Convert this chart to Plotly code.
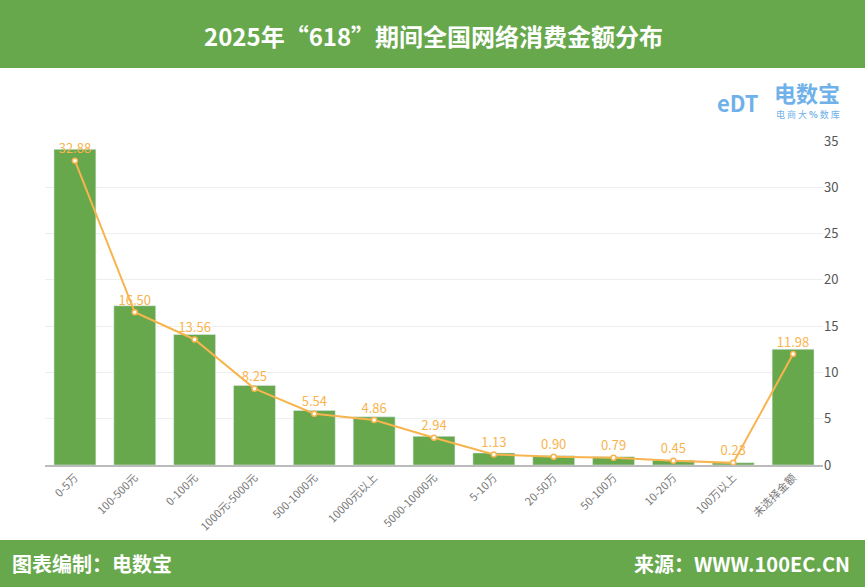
import plotly.graph_objects as go

categories = ["0-5万", "100-500元", "0-100元", "1000元-5000元", "500-1000元", "10000元以上",
              "5000-10000元", "5-10万", "20-50万", "50-100万", "10-20万", "100万以上", "未选择金额"]
bar_values = [34.1, 17.2, 14.1, 8.6, 5.9, 5.2, 3.1, 1.3, 1.0, 0.9, 0.5, 0.25, 12.5]
line_values = [32.88, 16.50, 13.56, 8.25, 5.54, 4.86, 2.94, 1.13, 0.90, 0.79, 0.45, 0.23, 11.98]
y_ticks = [0, 5, 10, 15, 20, 25, 30, 35]

GREEN = "#67a84c"
ORANGE = "#f8b44e"
FONT = "Noto Sans CJK SC"

L, R, T, B = 45, 42, 141, 122
PW, PH = 865 - L - R, 587 - T - B


def px(x):
    return (x - L) / PW


def py(y):
    return (587 - B - y) / PH


fig = go.Figure()
fig.add_trace(go.Bar(x=categories, y=bar_values, marker_color=GREEN, width=0.7,
                     hoverinfo="skip"))
fig.add_trace(go.Scatter(x=categories, y=line_values, mode="lines+markers+text",
                         line=dict(color=ORANGE, width=2),
                         marker=dict(size=5, color="white", line=dict(color=ORANGE, width=1.5)),
                         text=[f"{v:.2f}" for v in line_values], textposition="top center",
                         textfont=dict(color=ORANGE, size=13, family=FONT)))

fig.update_layout(
    width=865, height=587, showlegend=False,
    paper_bgcolor="white", plot_bgcolor="white",
    margin=dict(l=L, r=R, t=T, b=B),
    font=dict(family=FONT, color="#666"),
    shapes=[
        dict(type="rect", xref="paper", yref="paper", x0=px(0), x1=px(865), y0=py(68),
             y1=py(0), fillcolor=GREEN, line_width=0, layer="below"),
        dict(type="rect", xref="paper", yref="paper", x0=px(0), x1=px(865), y0=py(587),
             y1=py(540), fillcolor=GREEN, line_width=0, layer="below"),
    ],
    annotations=[
        dict(text="<b>2025年“618”期间全国网络消费金额分布</b>", xref="paper", yref="paper",
             x=px(433), y=py(36), xanchor="center", yanchor="middle", showarrow=False,
             font=dict(size=24, color="white", family=FONT)),
        dict(text="<b>图表编制：电数宝</b>", xref="paper", yref="paper", x=px(10), xanchor="left",
             y=py(563), yanchor="middle", showarrow=False,
             font=dict(size=20, color="white", family=FONT)),
        dict(text="<b>来源：WWW.100EC.CN</b>", xref="paper", yref="paper", x=px(852), xanchor="right",
             y=py(563), yanchor="middle", showarrow=False,
             font=dict(size=20, color="white", family=FONT)),
        dict(text="<b>eDT</b>", xref="paper", yref="paper", x=px(738), xanchor="center",
             y=py(102), yanchor="middle", showarrow=False,
             font=dict(size=22, color="#6fb1e8", family=FONT)),
        dict(text="<b>电数宝</b>", xref="paper", yref="paper", x=px(772), xanchor="left",
             y=py(92), yanchor="middle", showarrow=False,
             font=dict(size=22, color="#6fb1e8", family=FONT)),
        dict(text="电 商 大 <b>%</b> 数 库", xref="paper", yref="paper", x=px(774), xanchor="left",
             y=py(114), yanchor="middle", showarrow=False,
             font=dict(size=9, color="#6fb1e8", family=FONT)),
    ],
)
fig.update_xaxes(tickangle=-45, tickfont=dict(size=11, color="#777"), showline=True,
                 linecolor="#bbb", linewidth=2, ticks="", automargin=False,
                 range=[-0.5, len(categories) - 0.5])
fig.update_yaxes(side="right", range=[0, 35], tickvals=y_ticks, showgrid=True,
                 gridcolor="#eeeeee", zeroline=False, tickfont=dict(size=13, color="#555"),
                 automargin=False)

fig.write_html("out.html", config={"displayModeBar": False},
               post_script="document.body.style.margin='0';")
